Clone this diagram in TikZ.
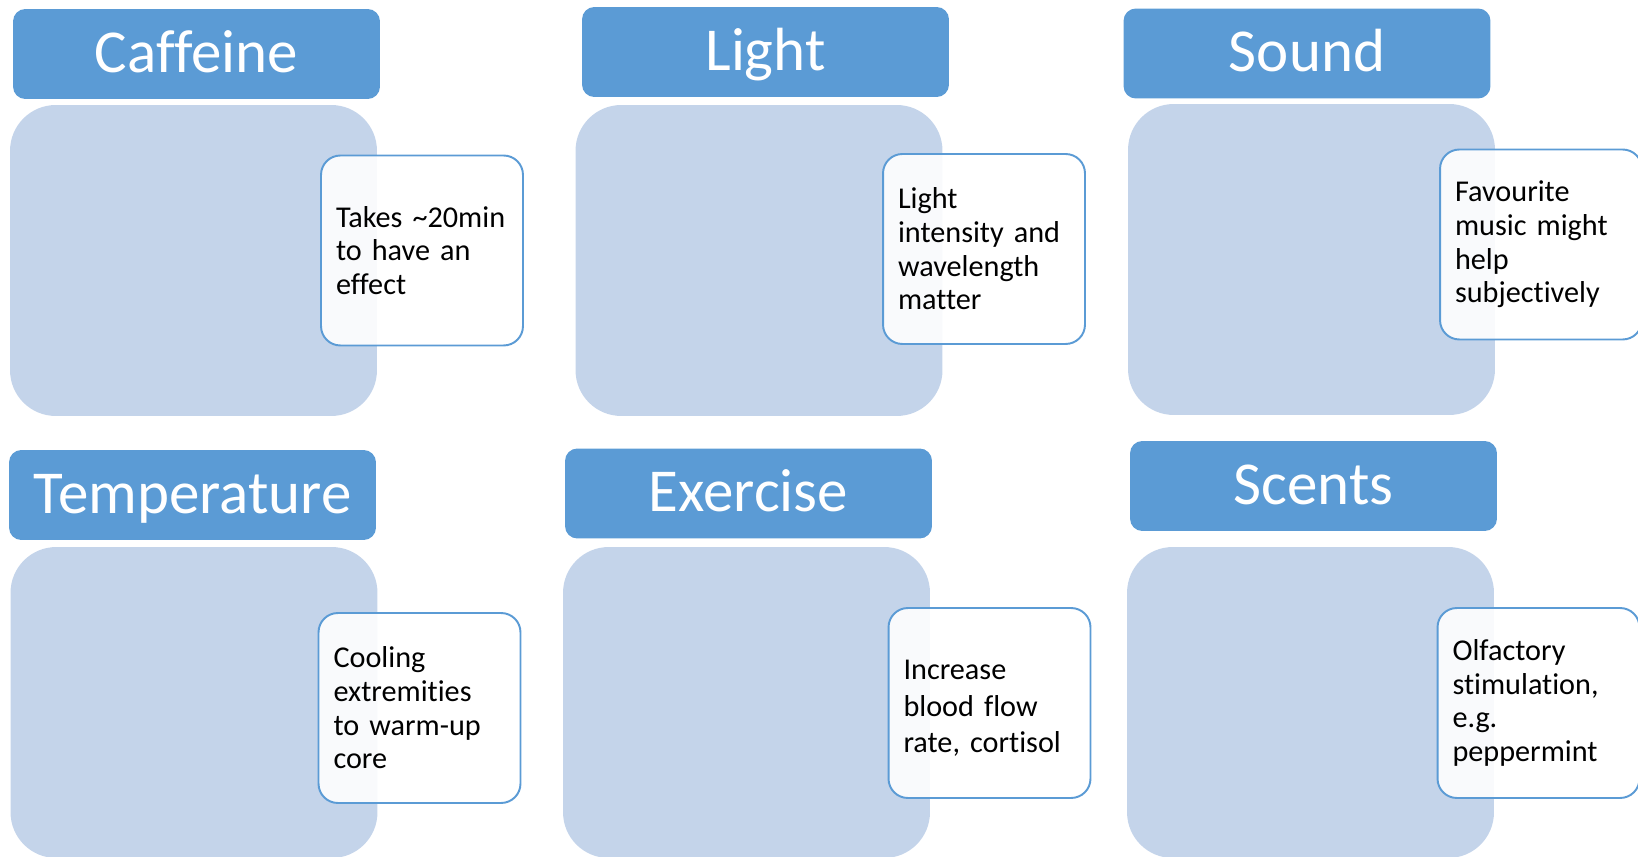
\documentclass[tikz,border=0pt]{standalone}
\usepackage{fontspec}
\setmainfont[Ligatures=CommonOff]{Carlito}
\usepackage{tikz}
\usetikzlibrary{positioning}

\definecolor{hdblue}{HTML}{5B9BD5}
\definecolor{panelblue}{HTML}{C4D4EA}

\begin{document}
\begin{tikzpicture}[
  x=0.02cm, y=-0.02cm,
  head/.style={fill=hdblue, rounded corners=7pt, text=white, inner sep=0pt,
               minimum width=7.34cm, minimum height=1.8cm,
               text height=24pt, text depth=3.5pt,
               font=\fontsize{34.7}{40}\selectfont},
  panel/.style={fill=panelblue, rounded corners=26pt, inner sep=0pt,
                minimum width=7.34cm, minimum height=6.22cm},
  note/.style={draw=hdblue, line width=1.1pt, fill=white, fill opacity=0.9,
               text opacity=1, rounded corners=11pt, align=left,
               minimum width=4.04cm, minimum height=3.8cm, text width=3.44cm,
               inner xsep=0.3cm, inner ysep=0pt,
               font=\fontsize{17.2}{19.2}\selectfont},
]
\useasboundingbox (0,0) rectangle (1638,857);

% top row
\node[head]  (cafT) at (196.5,54)    {Caffeine};
\node[panel] (cafP) at (193.5,260.5) {};
\node[note]  (cafN) at (422,250.5)   {Takes \textasciitilde20min\\to have an\\effect};

\node[head]  (ligT) at (765.5,52)    {Light};
\node[panel] (ligP) at (759,260.5)   {};
\node[note]  (ligN) at (984,249)     {Light\\intensity and\\wavelength\\matter};

\node[head]  (souT) at (1307,53.5)   {Sound};
\node[panel] (souP) at (1311.5,259.5) {};
\node[note]  (souN) at (1541,244.5)  {Favourite\\music might\\help\\subjectively};

% bottom row
\node[head]  (temT) at (192.5,495)   {Temperature};
\node[panel] (temP) at (194,702.5)   {};
\node[note]  (temN) at (419.5,708)   {Cooling\\extremities\\to warm-up\\core};

\node[head]  (exeT) at (748.5,493.5) {Exercise};
\node[panel] (exeP) at (746.5,702.5) {};
\node[note, font=\fontsize{17.2}{21}\selectfont]
             (exeN) at (989.5,703)   {\rule{0pt}{17pt}Increase\\blood flow\\rate, cortisol};

\node[head]  (scnT) at (1313.5,486)  {Scents};
\node[panel] (scnP) at (1310.5,702.5) {};
\node[note]  (scnN) at (1538.5,703)  {Olfactory\\stimulation,\\e.g.\\peppermint};
\end{tikzpicture}
\end{document}
